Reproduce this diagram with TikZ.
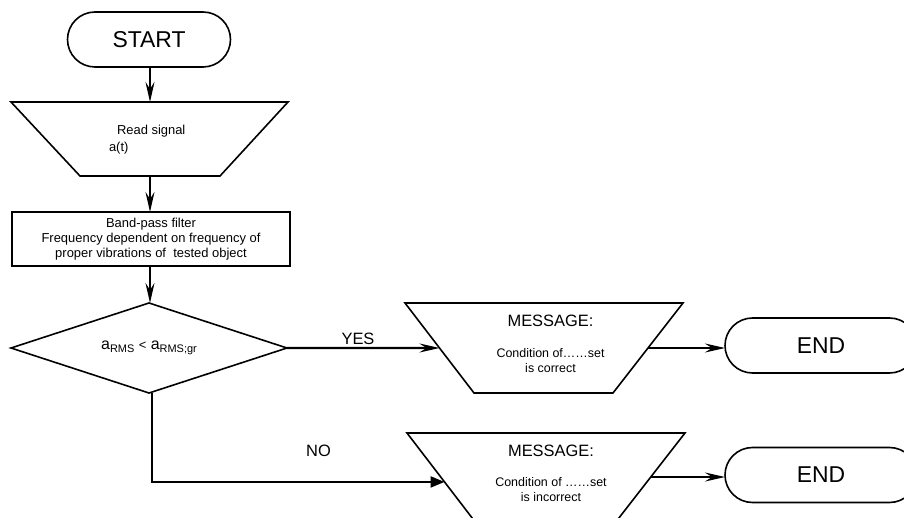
\documentclass[tikz,border=0pt]{standalone}
\usepackage{fontspec}
\setmainfont{Liberation Sans}
\usetikzlibrary{arrows.meta,calc}
\begin{document}
\begin{tikzpicture}[x=1bp,y=-1bp,
  shp/.style={inner sep=0pt, outer sep=0pt},
  ln/.style={line width=1.6bp, line join=miter},
  arr/.style={line width=2.2bp, -{Stealth[length=20bp,width=9bp,inset=7bp]}},
  arrf/.style={line width=2.2bp, -{Triangle[length=14bp,width=11bp]}},
  big/.style={font=\fontsize{23}{26}\selectfont},
  med/.style={font=\fontsize{16.5}{19}\selectfont},
  sml/.style={font=\fontsize{13}{15}\selectfont},
  tiny/.style={font=\fontsize{12.5}{15}\selectfont},
  term/.style={shp, draw, ln, rounded corners=27.5bp, minimum height=55bp, big},
]
\path[use as bounding box] (0,0) rectangle (904,518);
\clip (0,0) rectangle (904,518);

% START
\node[term, minimum width=163bp] (start) at (149,39.5) {START};

% Read signal (inverted trapezoid)
\node[shp, minimum width=277bp, minimum height=74bp] (read) at (149.5,139) {};
\draw[ln] (read.north west) -- (read.north east) -- ($(read.south east)+(-68,0)$)
  -- ($(read.south west)+(69,0)$) -- cycle;
\node[sml, shp, anchor=west] (readtxt) at (117,131) {Read signal};
\node[sml, shp, anchor=west] (attxt) at (109,148) {a(t)};

% Filter box
\node[shp, draw, ln, minimum width=278bp, minimum height=54bp, sml, align=center] (filter) at (151,239)
  {Band-pass filter\\Frequency dependent on frequency of\\proper vibrations of\ \ tested object};

% Decision
\node[shp, minimum width=276bp, minimum height=90bp] (dec) at (149,348) {};
\draw[ln] (dec.north) -- (dec.east) -- (dec.south) -- (dec.west) -- cycle;
\node[shp, font=\fontsize{16}{19}\selectfont] (dectxt) at (149,348)
  {a\raisebox{-3.5bp}{\fontsize{11}{12}\selectfont RMS} {\fontsize{13}{14}\selectfont<} a\raisebox{-3.5bp}{\fontsize{11}{12}\selectfont RMS;gr}};

% Message 1
\node[shp, minimum width=278bp, minimum height=90bp] (msg1) at (544,348) {};
\draw[ln] (msg1.north west) -- (msg1.north east) -- ($(msg1.south east)+(-70,0)$)
  -- ($(msg1.south west)+(69,0)$) -- cycle;
\node[med, shp] (m1a) at (550.5,321) {MESSAGE:};
\node[tiny, shp, align=center] (m1b) at (550.5,360.5) {Condition of……set\\is correct};

% Message 2
\node[shp, minimum width=278bp, minimum height=90bp] (msg2) at (546,478) {};
\draw[ln] (msg2.north west) -- (msg2.north east) -- ($(msg2.south east)+(-70,0)$)
  -- ($(msg2.south west)+(69,0)$) -- cycle;
\node[med, shp] (m2a) at (551,451) {MESSAGE:};
\node[tiny, shp, align=center] (m2b) at (551,490) {Condition of ……set\\is incorrect};

% END terminals
\node[term, minimum width=192bp] (end1) at (821,345.5) {END};
\node[term, minimum width=192bp] (end2) at (821,475) {END};

% connection points on slanted edges
\coordinate (m1in) at ($(msg1.north west)!0.5!($(msg1.south west)+(69,0)$)$);
\coordinate (m1out) at ($(msg1.north east)!0.5!($(msg1.south east)+(-70,0)$)$);
\coordinate (m2in) at ($(msg2.north west)!0.544!($(msg2.south west)+(69,0)$)$);
\coordinate (m2out) at ($(msg2.north east)!0.489!($(msg2.south east)+(-70,0)$)$);

% connectors
\draw[arr] (start.south -| 150,0) -- (read.north -| 150,0);
\draw[arr] (read.south -| 150,0) -- (filter.north -| 150,0);
\draw[arr] (filter.south -| 150,0) -- (dec.north -| 150,0);
\draw[arr] (dec.east) -- (m1in);
\draw[arr] (m1out) -- (m1out -| end1.west);
\draw[arrf] ($(dec.south)+(3,0)$) |- (m2in);
\draw[arr] (m2out) -- (m2out -| end2.west);

% labels
\node[med, shp] (yes) at (358,339) {YES};
\node[med, shp] (no) at (318.5,450.5) {NO};
\end{tikzpicture}
\end{document}
